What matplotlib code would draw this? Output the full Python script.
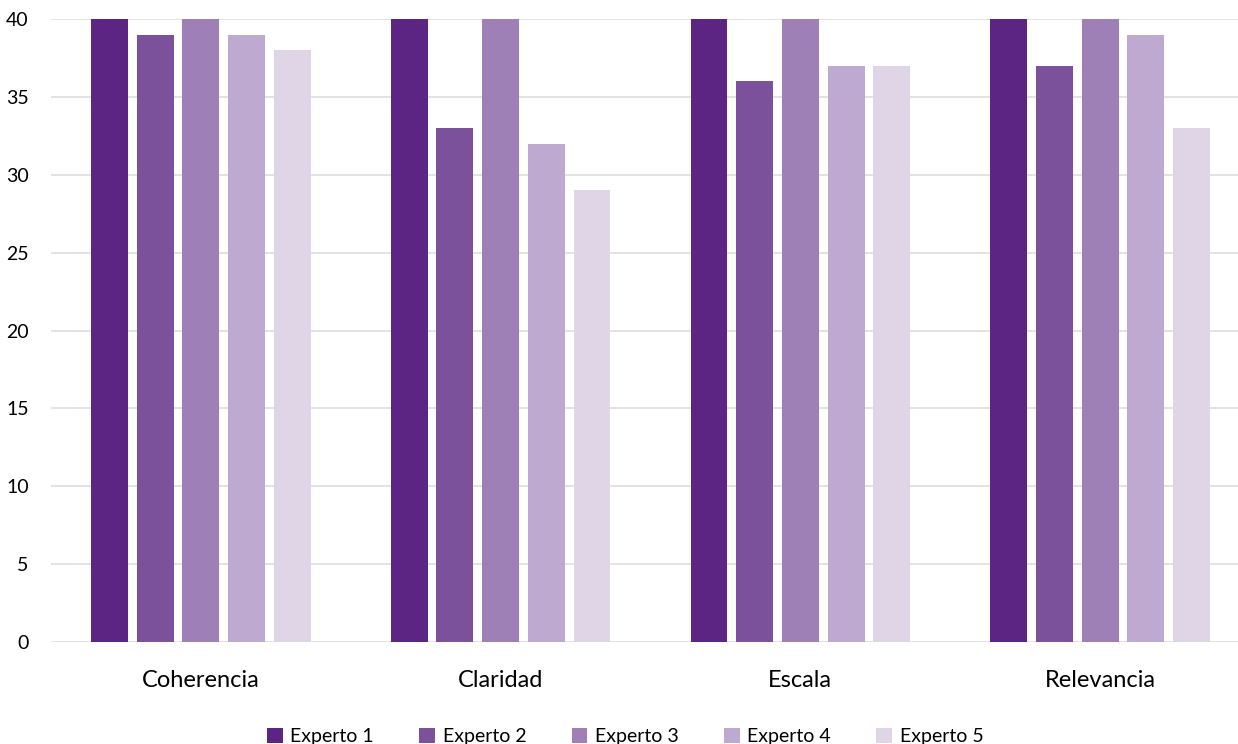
import numpy as np
import matplotlib
matplotlib.use('Agg')
import matplotlib.pyplot as plt

plt.rcParams['font.family'] = ['Lato', 'DejaVu Sans']

categorias = ['Coherencia', 'Claridad', 'Escala', 'Relevancia']
expertos = ['Experto 1', 'Experto 2', 'Experto 3', 'Experto 4', 'Experto 5']
valores = [
    [40, 40, 40, 40],  # Experto 1
    [39, 33, 36, 37],  # Experto 2
    [40, 40, 40, 40],  # Experto 3
    [39, 32, 37, 39],  # Experto 4
    [38, 29, 37, 33],  # Experto 5
]
colores = ['#5c2483', '#7b519b', '#9e7fb6', '#bea9d0', '#e0d4e7']

fig = plt.figure(figsize=(12.38, 7.44), dpi=100)
ax = fig.add_axes([51 / 1238, 102 / 744, 1187 / 1238, 623 / 744])

x = np.arange(len(categorias))
ancho = 0.123
paso = 0.1525
for i, (nombre, vals) in enumerate(zip(expertos, valores)):
    ax.bar(x + (i - 2) * paso, vals, ancho, color=colores[i], label=nombre, zorder=3)

ax.set_xlim(-0.5, 3.46)
ax.set_ylim(0, 40)
ax.set_yticks(range(0, 41, 5))
ax.set_xticks(x)
ax.set_xticklabels(categorias, fontsize=17)
ax.tick_params(axis='y', labelsize=14, length=0, pad=16)
ax.tick_params(axis='x', length=0, pad=20)
ax.grid(axis='y', color='#e0e0e0', linewidth=1.3, zorder=0)
for s in ax.spines.values():
    s.set_visible(False)

fig.legend(loc='lower center', bbox_to_anchor=(0.505, -0.025), ncol=5, frameon=False,
           fontsize=14, handlelength=0.8, handleheight=0.8, handletextpad=0.4,
           columnspacing=2.33)

fig.savefig('out.png', dpi=100)
